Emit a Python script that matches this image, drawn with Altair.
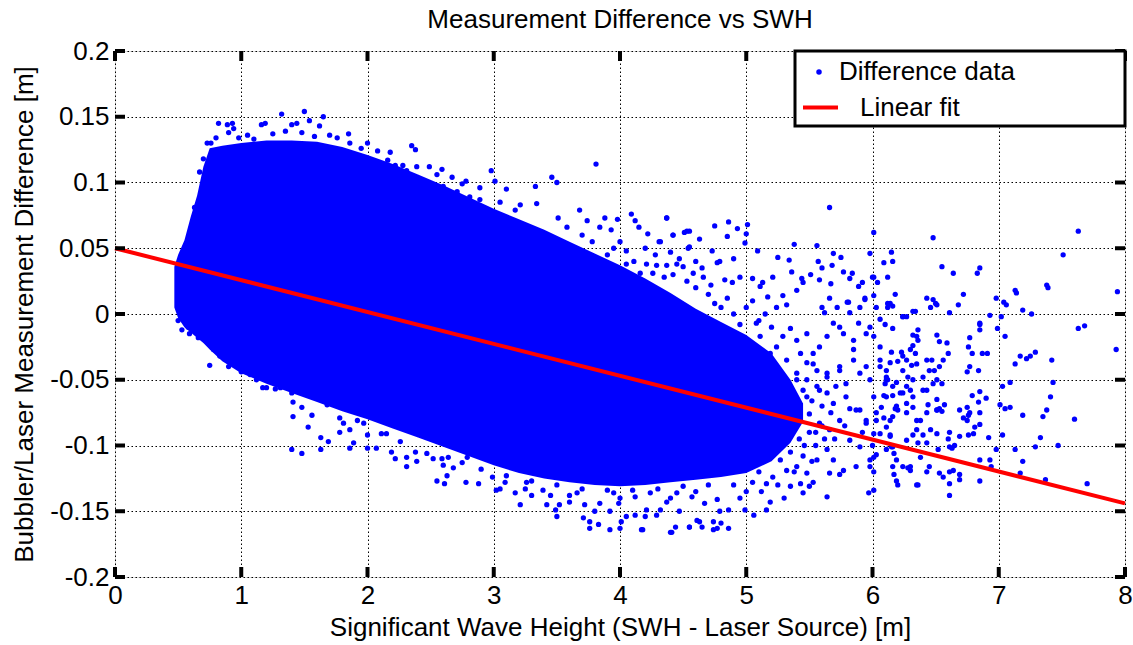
import altair as alt
import pandas as pd

# ------------------------------------------------------------------ data
# dense core of the scatter cloud: x, upper and lower edge
area_x = [0.47, 0.50, 0.55, 0.60, 0.65, 0.70, 0.75, 0.85, 1.0, 1.2, 1.4, 1.6, 1.8, 2.0, 2.2,
          2.4, 2.6, 2.8, 3.0, 3.2, 3.4, 3.6, 3.8, 4.0, 4.2, 4.4, 4.6, 4.8, 5.0, 5.2, 5.35, 5.45]
area_hi = [0.036, 0.045, 0.056, 0.074, 0.090, 0.112, 0.126, 0.128, 0.130, 0.132, 0.132, 0.131,
           0.127, 0.121, 0.114, 0.106, 0.098, 0.089, 0.080, 0.072, 0.064, 0.055, 0.046, 0.037,
           0.027, 0.016, 0.004, -0.006, -0.016, -0.030, -0.050, -0.068]
area_lo = [0.005, -0.003, -0.010, -0.014, -0.018, -0.022, -0.027, -0.036, -0.045, -0.053,
           -0.060, -0.067, -0.074, -0.080, -0.087, -0.094, -0.101, -0.108, -0.115, -0.121,
           -0.125, -0.128, -0.130, -0.131, -0.130, -0.128, -0.126, -0.124, -0.121, -0.112, -0.098, -0.082]

# individually visible points, grouped by region
top_pts = [[0.82, 0.145], [0.89, 0.144], [0.93, 0.145], [0.94, 0.141], [0.90, 0.138], [0.80, 0.134],
           [0.73, 0.130], [1.16, 0.144], [1.19, 0.145], [1.32, 0.152], [1.40, 0.144], [1.44, 0.145],
           [1.50, 0.154], [1.54, 0.147], [1.65, 0.150], [1.62, 0.143], [1.48, 0.138], [1.85, 0.137],
           [1.86, 0.130], [2.00, 0.130], [2.18, 0.123], [2.16, 0.117], [2.22, 0.113], [2.28, 0.113],
           [0.67, 0.108], [0.62, 0.066], [0.63, 0.081], [0.57, 0.052], [0.58, -0.010], [0.59, -0.015],
           [1.05, 0.136], [1.25, 0.137], [1.35, 0.139], [1.70, 0.136], [1.76, 0.134], [0.76, 0.130],
           [0.98, 0.134], [1.10, 0.133], [1.58, 0.135], [1.95, 0.126], [2.08, 0.124], [0.70, 0.118]]

upper_mid_pts = [[2.35, 0.128], [2.38, 0.125], [2.31, 0.109], [2.39, 0.112], [2.49, 0.112],
                 [2.55, 0.106], [2.59, 0.110], [2.67, 0.104], [2.75, 0.099], [2.78, 0.101], [2.98, 0.109],
                 [3.01, 0.101], [3.10, 0.095], [2.89, 0.096], [3.33, 0.097], [3.46, 0.104], [3.50, 0.100],
                 [3.81, 0.114], [3.68, 0.079], [3.88, 0.073], [3.98, 0.072], [4.09, 0.076], [4.12, 0.071],
                 [4.37, 0.073], [4.53, 0.063], [4.42, 0.060], [4.32, 0.055], [4.55, 0.051],
                 [4.15, 0.066], [3.93, 0.064], [3.84, 0.066], [3.74, 0.071], [3.58, 0.066], [3.51, 0.073],
                 [3.34, 0.084], [3.21, 0.083], [3.17, 0.079], [3.05, 0.085], [2.89, 0.087], [2.81, 0.089],
                 [2.71, 0.093], [2.60, 0.097], [4.05, 0.038], [4.11, 0.040], [4.21, 0.038], [4.29, 0.037],
                 [4.37, 0.037], [4.45, 0.038], [4.50, 0.036], [4.58, 0.031], [4.26, 0.031], [4.16, 0.031],
                 [4.42, 0.030], [4.53, 0.025], [3.95, 0.050], [4.00, 0.055], [4.05, 0.048], [4.20, 0.050],
                 [4.28, 0.045], [4.40, 0.047], [4.47, 0.042], [4.60, 0.040], [4.65, 0.035], [3.70, 0.060],
                 [3.78, 0.055], [3.90, 0.045], [4.35, 0.028], [4.60, 0.020], [4.70, 0.015], [4.66, 0.028],
                 [4.72, 0.022], [4.80, 0.005], [4.90, 0.000], [5.00, 0.005], [4.95, -0.008], [5.05, 0.010],
                 [5.15, 0.000], [5.20, -0.010], [4.85, 0.012], [4.75, 0.008], [5.10, -0.005]]

right_upper_pts = [[5.66, 0.081], [6.48, 0.058], [6.01, 0.062], [6.15, 0.047], [6.16, 0.040], [4.37, 0.073],
                   [4.86, 0.070], [4.75, 0.067], [4.93, 0.065], [5.01, 0.068], [5.00, 0.061], [4.99, 0.054],
                   [4.22, 0.061], [4.42, 0.060], [4.51, 0.062], [4.55, 0.063], [4.63, 0.057], [4.31, 0.055],
                   [4.85, 0.059], [4.54, 0.050], [4.73, 0.048], [4.79, 0.040], [4.77, 0.039], [4.90, 0.042],
                   [5.38, 0.053], [5.56, 0.052], [5.09, 0.048], [5.25, 0.043], [5.34, 0.041], [5.69, 0.046],
                   [5.75, 0.043], [5.57, 0.040], [5.60, 0.035], [5.68, 0.037], [5.77, 0.032], [5.84, 0.031],
                   [5.82, 0.027], [5.36, 0.032], [5.44, 0.027], [5.51, 0.030], [5.58, 0.026], [5.67, 0.023],
                   [6.01, 0.028], [6.04, 0.024], [6.12, 0.028], [5.92, 0.024], [5.89, 0.021], [5.21, 0.028],
                   [5.13, 0.024], [5.05, 0.027], [5.11, 0.021], [4.95, 0.028], [4.89, 0.024], [4.83, 0.026],
                   [6.43, 0.012], [6.48, 0.011], [6.51, 0.007], [6.46, 0.005], [6.34, 0.002], [6.27, -0.002],
                   [6.18, 0.015], [6.12, 0.008], [6.16, 0.006], [6.01, 0.014], [6.03, 0.005], [5.94, 0.011],
                   [5.81, 0.009], [5.90, 0.005], [5.82, 0.001], [5.72, 0.005], [5.66, 0.012], [5.60, 0.005],
                   [5.62, 0.001], [5.45, 0.024], [5.40, 0.018], [5.29, 0.014], [5.24, 0.005], [5.17, 0.013],
                   [5.32, 0.007]]

right_mid_pts = [[6.06, -0.004], [6.10, -0.008], [6.16, -0.011], [6.24, -0.002], [6.32, -0.016],
                 [6.36, -0.020], [6.30, -0.027], [6.27, -0.035], [6.43, -0.035], [6.49, -0.043], [6.40, -0.048],
                 [6.32, -0.050], [6.24, -0.043], [6.15, -0.029], [6.06, -0.025], [6.01, -0.017], [5.98, -0.010],
                 [5.95, -0.015], [5.89, -0.007], [5.85, -0.020], [5.77, -0.015], [5.74, -0.010], [5.69, -0.007],
                 [5.64, -0.017], [5.58, -0.025], [5.53, -0.030], [5.48, -0.015], [5.40, -0.020], [5.35, -0.011],
                 [5.29, -0.017], [5.24, -0.025], [5.19, -0.030], [5.11, -0.017], [5.08, -0.007], [5.43, -0.030],
                 [5.48, -0.037], [5.56, -0.043], [5.64, -0.045], [5.74, -0.040], [5.85, -0.035], [5.90, -0.045],
                 [5.98, -0.050], [6.06, -0.040], [6.11, -0.048], [6.16, -0.055], [6.24, -0.060], [6.32, -0.063],
                 [6.40, -0.058], [6.48, -0.053], [6.51, -0.065], [6.43, -0.075], [6.35, -0.081], [6.27, -0.075],
                 [6.19, -0.070], [6.11, -0.063], [6.03, -0.075], [5.95, -0.081], [5.87, -0.073], [5.79, -0.063],
                 [5.71, -0.055], [5.64, -0.060], [5.56, -0.055], [5.48, -0.050], [5.40, -0.045], [5.32, -0.035],
                 [5.27, -0.050], [5.21, -0.040], [5.16, -0.055], [5.08, -0.045], [5.03, -0.035],
                 [5.45, -0.058], [5.52, -0.066], [5.50, -0.076], [5.55, -0.090], [5.60, -0.070], [5.66, -0.088],
                 [5.70, -0.095], [5.78, -0.085], [5.82, -0.072], [5.92, -0.090], [5.46, -0.100], [5.52, -0.112]]

right_low_pts = [[6.45, -0.116], [6.43, -0.120], [6.36, -0.130], [6.20, -0.130], [6.19, -0.127], [6.30, -0.116],
                 [6.24, -0.116], [6.16, -0.116], [6.01, -0.134], [5.97, -0.136], [5.64, -0.139], [5.74, -0.122],
                 [5.66, -0.121], [5.53, -0.128], [5.45, -0.136], [5.50, -0.131], [5.43, -0.129], [5.35, -0.131],
                 [5.19, -0.143], [5.16, -0.149], [5.06, -0.153], [4.99, -0.149], [4.86, -0.149], [4.79, -0.150],
                 [4.74, -0.158], [4.80, -0.159], [4.86, -0.163], [4.63, -0.158], [4.55, -0.162], [4.41, -0.166],
                 [4.18, -0.164], [4.77, -0.163], [6.14, -0.093], [6.06, -0.091], [6.11, -0.103], [6.16, -0.101],
                 [6.27, -0.096], [6.35, -0.088], [6.43, -0.098], [6.51, -0.091], [6.52, -0.103], [6.38, -0.109],
                 [6.03, -0.107], [5.98, -0.111], [5.90, -0.101], [5.82, -0.096], [5.87, -0.116], [5.77, -0.119],
                 [5.69, -0.111], [5.64, -0.103], [5.56, -0.111], [5.48, -0.121], [5.40, -0.116], [5.32, -0.119],
                 [5.27, -0.111], [5.21, -0.124], [5.16, -0.129], [5.10, -0.120], [5.48, -0.063], [5.58, -0.058],
                 [5.69, -0.068], [5.79, -0.053], [5.90, -0.073], [6.01, -0.063], [6.11, -0.050], [6.22, -0.060],
                 [6.32, -0.071], [6.43, -0.058], [6.51, -0.073], [6.45, -0.043], [6.35, -0.038], [6.24, -0.032],
                 [6.06, -0.035], [5.95, -0.040], [5.85, -0.027], [5.74, -0.043], [5.64, -0.048], [5.53, -0.038],
                 [5.40, -0.050], [5.35, -0.073], [5.27, -0.063], [5.19, -0.078], [5.40, -0.078], [5.58, -0.083],
                 [5.74, -0.081], [5.95, -0.083], [6.16, -0.078], [6.38, -0.081], [4.90, -0.130], [5.00, -0.135],
                 [5.05, -0.128], [4.95, -0.140], [5.12, -0.135], [5.25, -0.130], [5.30, -0.140], [5.38, -0.120],
                 [5.28, -0.100], [5.35, -0.105], [5.42, -0.095], [5.45, -0.108], [5.50, -0.090], [5.55, -0.100],
                 [5.60, -0.085], [5.62, -0.095], [5.67, -0.075], [5.30, -0.090], [5.38, -0.088]]

far_right_pts = [[7.93, -0.027], [7.63, -0.011], [7.68, -0.009], [7.60, -0.080], [7.70, -0.129], [7.42, -0.035],
                 [7.43, -0.052], [7.41, -0.063], [7.38, -0.073], [7.35, -0.078], [7.33, -0.094], [7.47, -0.100],
                 [7.29, -0.029], [7.22, -0.034], [7.25, -0.032], [7.17, -0.032], [7.13, -0.038], [7.29, -0.101],
                 [7.19, -0.077], [7.19, -0.112], [7.17, -0.121], [7.37, -0.126], [7.13, -0.103], [7.09, -0.052],
                 [7.03, -0.055], [7.01, -0.069], [7.05, -0.072], [7.09, -0.071], [7.03, -0.092], [6.99, -0.011],
                 [7.05, -0.017], [6.98, -0.103], [6.93, -0.111], [6.94, -0.116], [6.92, -0.094], [6.91, -0.030],
                 [6.87, -0.030], [6.85, -0.008], [6.85, -0.012], [6.84, -0.043], [6.90, -0.064], [6.85, -0.059],
                 [6.84, -0.067], [6.85, -0.075], [6.85, -0.084], [6.81, -0.086], [6.80, -0.091], [6.76, -0.092],
                 [6.85, -0.111], [6.85, -0.127], [6.77, -0.018], [6.76, -0.025], [6.79, -0.030], [6.77, -0.040],
                 [6.75, -0.044], [6.79, -0.062], [6.75, -0.071], [6.77, -0.075], [6.72, -0.079], [6.75, -0.081],
                 [6.76, -0.077], [6.69, -0.073], [6.69, -0.093], [6.65, -0.100], [6.69, -0.122], [6.69, -0.126],
                 [6.61, -0.129], [6.61, -0.138], [6.61, -0.090], [6.60, -0.095], [6.61, -0.101], [6.63, -0.102],
                 [6.64, -0.119], [6.60, -0.030], [6.59, -0.022], [6.53, -0.021], [6.56, -0.035], [6.53, -0.040],
                 [6.51, -0.016], [6.47, -0.035], [6.51, -0.050], [6.55, -0.053], [6.57, -0.069], [6.53, -0.072],
                 [6.51, -0.073], [6.55, -0.074], [6.53, -0.121], [6.56, -0.124], [6.61, -0.120], [6.44, -0.069],
                 [6.46, -0.088], [6.40, -0.092], [6.36, -0.098], [6.35, -0.017], [6.36, -0.012], [6.32, -0.024],
                 [6.34, -0.030], [6.31, -0.039], [6.28, -0.048], [6.27, -0.055], [6.30, -0.058], [6.27, -0.068],
                 [6.35, -0.130], [6.32, -0.092], [6.28, -0.117], [6.30, -0.119], [6.23, -0.029], [6.20, -0.036],
                 [6.19, -0.052], [6.16, -0.062], [6.18, -0.072], [6.20, -0.073], [6.14, -0.081], [6.14, -0.037],
                 [6.11, -0.043], [6.10, -0.053], [6.12, -0.050], [6.09, -0.062], [6.07, -0.071], [6.09, -0.079],
                 [6.11, -0.086], [6.14, -0.092], [6.15, -0.101], [6.17, -0.106], [6.19, -0.111], [6.17, -0.122],
                 [6.03, -0.081], [6.01, -0.091], [6.00, -0.100], [6.01, -0.109], [5.98, -0.116], [6.01, -0.120],
                 [7.63, 0.063], [7.51, 0.045], [7.94, 0.017], [6.55, 0.036], [6.64, 0.031], [6.83, 0.031],
                 [6.85, 0.035], [7.13, 0.018], [7.14, 0.016], [7.38, 0.022], [7.39, 0.020], [6.98, 0.012],
                 [7.04, 0.009], [7.06, 0.007], [7.19, 0.003], [7.26, 0.000], [6.93, -0.001], [7.02, -0.002],
                 [6.50, 0.008], [6.61, 0.001], [6.68, 0.007], [6.72, 0.015], [6.85, -0.007], [6.14, 0.008],
                 [6.12, 0.005], [6.32, 0.002], [6.24, -0.002], [6.09, 0.039], [6.00, 0.028], [5.98, 0.046],
                 [5.94, 0.012], [5.80, 0.009]]

bottom_pts = [[0.75, -0.039], [0.59, -0.010], [0.66, -0.018], [0.69, -0.017], [0.78, -0.027], [0.83, -0.032],
              [1.00, -0.044], [1.07, -0.046], [1.17, -0.056], [1.20, -0.056], [1.27, -0.057], [1.31, -0.056],
              [1.40, -0.060], [1.41, -0.078], [1.48, -0.071], [1.56, -0.077], [1.53, -0.086], [1.41, -0.067],
              [1.40, -0.103], [1.48, -0.106], [1.63, -0.094], [1.69, -0.097], [1.63, -0.103], [1.78, -0.079],
              [1.78, -0.090], [1.86, -0.088], [1.86, -0.102], [1.89, -0.098], [2.00, -0.092], [2.00, -0.102],
              [2.07, -0.102], [2.11, -0.091], [2.19, -0.105], [2.22, -0.110], [2.31, -0.109], [2.31, -0.116],
              [2.26, -0.097], [1.97, -0.083], [1.92, -0.081], [1.81, -0.083], [1.68, -0.069], [2.15, -0.091],
              [2.38, -0.105], [2.39, -0.112], [2.47, -0.106], [2.52, -0.110], [2.59, -0.110], [2.60, -0.115],
              [2.64, -0.109], [2.68, -0.117], [2.75, -0.113], [2.79, -0.109], [2.55, -0.127], [2.61, -0.129],
              [2.63, -0.123], [2.78, -0.128], [2.88, -0.129], [2.99, -0.124], [3.02, -0.134], [3.05, -0.133],
              [3.09, -0.128], [3.17, -0.136], [3.21, -0.145], [3.25, -0.133], [3.30, -0.138], [3.26, -0.128],
              [3.39, -0.134], [3.42, -0.145], [3.45, -0.138], [3.49, -0.149], [3.50, -0.154], [3.52, -0.145],
              [3.60, -0.143], [3.66, -0.136], [3.71, -0.155], [3.72, -0.145], [3.76, -0.158], [3.76, -0.163],
              [3.80, -0.150], [3.83, -0.160], [3.84, -0.144], [3.92, -0.150], [3.92, -0.164], [3.95, -0.136],
              [3.99, -0.144], [4.00, -0.163], [4.01, -0.158], [4.05, -0.154], [4.12, -0.153], [4.17, -0.164],
              [4.21, -0.149], [4.20, -0.154], [4.29, -0.153], [4.32, -0.149], [4.37, -0.143], [4.40, -0.166],
              [4.44, -0.162], [4.47, -0.150], [4.55, -0.162], [4.61, -0.157], [4.65, -0.162], [4.74, -0.164],
              [4.77, -0.141], [4.67, -0.144], [4.57, -0.139], [4.45, -0.136], [4.24, -0.136], [4.12, -0.139],
              [2.90, -0.118], [3.10, -0.123], [3.30, -0.127], [3.50, -0.130], [3.70, -0.133], [3.90, -0.134],
              [4.10, -0.134], [4.30, -0.133], [4.50, -0.131], [4.70, -0.130], [3.60, -0.138], [4.00, -0.140],
              [4.40, -0.140], [4.60, -0.135], [0.50, -0.005], [0.53, -0.012], [0.90, -0.040], [1.12, -0.050]]

# linear fit
fit_x = [0.0, 8.0]
fit_y = [0.050, -0.144]

# tick positions / labels
x_ticks = [0, 1, 2, 3, 4, 5, 6, 7, 8]
y_ticks = [-0.2, -0.15, -0.1, -0.05, 0, 0.05, 0.1, 0.15, 0.2]

series_names = ["Difference data", "Linear fit"]

# ------------------------------------------------------------------ frames
area_df = pd.DataFrame({"x": area_x, "hi": area_hi, "lo": area_lo})
all_pts = top_pts + upper_mid_pts + right_upper_pts + right_mid_pts + right_low_pts + far_right_pts + bottom_pts
pts_df = pd.DataFrame(all_pts, columns=["x", "y"])
pts_df["series"] = series_names[0]
fit_df = pd.DataFrame({"x": fit_x, "y": fit_y, "series": series_names[1]})
xt_df = pd.DataFrame({"v": x_ticks})
yt_df = pd.DataFrame({"v": y_ticks})
one_df = pd.DataFrame({"a": [0]})

# ------------------------------------------------------------------ styling
W, H = 1010, 526
FONT = "Liberation Sans"
BLUE = "#0000ff"
RED = "#ff0000"

xscale = alt.Scale(domain=[0, 8], nice=False, zero=False)
yscale = alt.Scale(domain=[-0.2, 0.2], nice=False, zero=False)

xaxis = alt.Axis(values=x_ticks, title="Significant Wave Height (SWH - Laser Source) [m]",
                 grid=True, gridDash=[1.5, 2.5], gridColor="black", gridWidth=1, gridOpacity=1,
                 domain=False, ticks=False, tickSize=0, labelPadding=5, labelFontSize=26,
                 labelFont=FONT, labelColor="black", labelFlush=False, labelOverlap=False,
                 titleFont=FONT, titleFontSize=26, titleFontWeight="normal", titleColor="black",
                 titlePadding=6)
yaxis = alt.Axis(values=y_ticks, title="Bubbler/Laser Measurement Difference [m]",
                 grid=True, gridDash=[1.5, 2.5], gridColor="black", gridWidth=1, gridOpacity=1,
                 domain=False, ticks=False, tickSize=0, labelPadding=6, labelFontSize=26,
                 labelFont=FONT, labelColor="black", labelFlush=False, labelOverlap=False,
                 labelExpr="'' + datum.value",
                 titleFont=FONT, titleFontSize=26, titleFontWeight="normal", titleColor="black",
                 titlePadding=12)


def X(field):
    return alt.X(field, type="quantitative", scale=xscale, axis=xaxis)


def Y(field):
    return alt.Y(field, type="quantitative", scale=yscale, axis=yaxis)


area = alt.Chart(area_df).mark_area(color=BLUE, opacity=1, interpolate="linear").encode(
    x=X("x"), y=Y("lo"), y2="hi")

points = alt.Chart(pts_df).mark_circle(size=28, opacity=1).encode(
    x=X("x"), y=Y("y"),
    color=alt.Color("series:N", scale=alt.Scale(domain=[series_names[0]], range=[BLUE]),
                    legend=alt.Legend(title=None, orient="none", legendX=691, legendY=8,
                                      symbolType="circle", symbolSize=30, symbolStrokeWidth=0,
                                      labelFont=FONT, labelFontSize=26, labelColor="black",
                                      labelOffset=7, labelLimit=400, padding=0)))

fit = alt.Chart(fit_df).mark_line(strokeWidth=4).encode(
    x=X("x"), y=Y("y"),
    stroke=alt.Stroke("series:N", scale=alt.Scale(domain=[series_names[1]], range=[RED]),
                      legend=alt.Legend(title=None, orient="none", legendX=686, legendY=37,
                                        symbolType="stroke", symbolSize=1225, symbolStrokeWidth=4,
                                        labelFont=FONT, labelFontSize=26, labelColor="black",
                                        labelOffset=20, labelLimit=400, padding=0)))

tick_bottom = alt.Chart(xt_df).mark_rule(color="black", strokeWidth=4).encode(
    x=X("v"), y=alt.value(H), y2=alt.value(H - 10))
tick_top = alt.Chart(xt_df).mark_rule(color="black", strokeWidth=4).encode(
    x=X("v"), y=alt.value(0), y2=alt.value(10))
tick_left = alt.Chart(yt_df).mark_rule(color="black", strokeWidth=4).encode(
    y=Y("v"), x=alt.value(0), x2=alt.value(10))
tick_right = alt.Chart(yt_df).mark_rule(color="black", strokeWidth=4).encode(
    y=Y("v"), x=alt.value(W - 10), x2=alt.value(W))

legend_box = alt.Chart(one_df).mark_rect(fill="white", stroke="black", strokeWidth=3).encode(
    x=alt.value(680), x2=alt.value(W), y=alt.value(0), y2=alt.value(75))

chart = alt.layer(area, points, fit, tick_bottom, tick_top, tick_left, tick_right, legend_box).properties(
    width=W, height=H,
    title=alt.TitleParams("Measurement Difference vs SWH", font=FONT, fontSize=26,
                          fontWeight="normal", color="black", anchor="middle", offset=5,
                          frame="group"),
    padding={"left": 115, "top": 51, "right": 8, "bottom": 68},
    autosize=alt.AutoSizeParams(type="none"),
).configure_view(stroke="black", strokeWidth=3.5).configure(background="white")

chart.save("out.html", embed_options={"renderer": "svg", "actions": False})
